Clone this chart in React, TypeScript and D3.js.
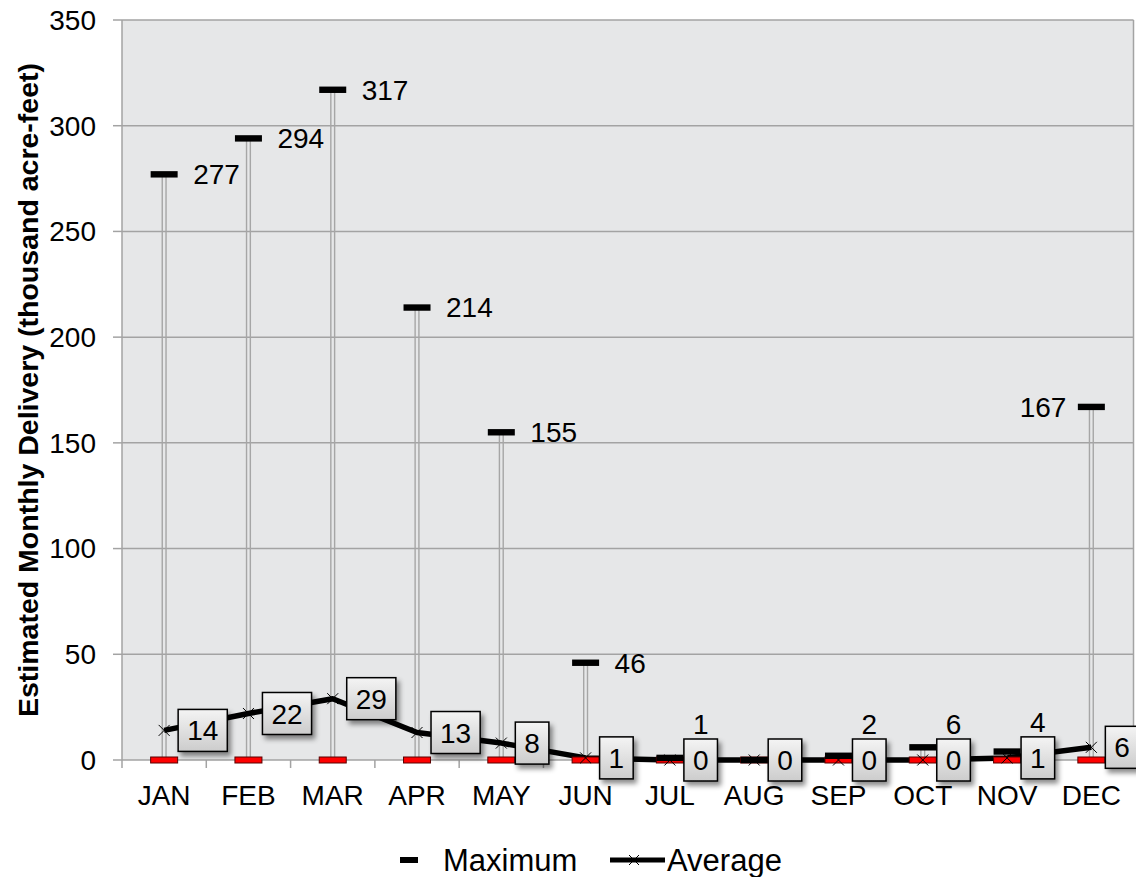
import React from "react";
import * as d3 from "d3";

const months = ["JAN", "FEB", "MAR", "APR", "MAY", "JUN", "JUL", "AUG", "SEP", "OCT", "NOV", "DEC"];
const maxValues = [277, 294, 317, 214, 155, 46, 1, 0, 2, 6, 4, 167];
const minValues = [0, 0, 0, 0, 0, 0, 0, 0, 0, 0, 0, 0];
const avgValues = [14, 22, 29, 13, 8, 1, 0, 0, 0, 0, 1, 6];
// where each maximum label sits: right of marker, left of marker, above the average box, or hidden
const maxLabelPos = ["right", "right", "right", "right", "right", "right", "above", "none", "above", "above", "above", "left"];
const yTicks = [0, 50, 100, 150, 200, 250, 300, 350];
const yTitle = "Estimated Monthly Delivery (thousand acre-feet)";
const legendMax = "Maximum";
const legendAvg = "Average";

const W = 1136;
const H = 877;
const FONT = "'Liberation Sans', Arial, sans-serif";
const FS = 28;

export default function App() {
  const x = d3.scaleBand<string>().domain(months).range([122, 1133.5]).padding(0);
  const y = d3.scaleLinear().domain([0, 350]).range([760, 20]);
  const cx = (m: string) => (x(m) as number) + x.bandwidth() / 2;
  const x0 = x.range()[0];
  const x1 = x.range()[1];
  const line = d3
    .line<number>()
    .x((_, i) => cx(months[i]))
    .y((d) => y(d));
  const digitW = FS * 0.556;
  const boxW = (v: number) => String(v).length * digitW + 18;
  const boxH = 42;
  const boxOff = 14;
  const crossPath = (px: number, py: number, s: number) =>
    `M${px - s},${py - s}L${px + s},${py + s}M${px - s},${py + s}L${px + s},${py - s}`;

  return (
    <svg width={W} height={H} style={{ position: "absolute", left: 0, top: 0, background: "#fff" }} fontFamily={FONT}>
      <defs>
        <linearGradient id="boxGrad" x1="0" y1="0" x2="0" y2="1">
          <stop offset="0" stopColor="#f4f4f4" />
          <stop offset="1" stopColor="#cccccc" />
        </linearGradient>
        <filter id="shadow" x="-30%" y="-30%" width="160%" height="160%">
          <feDropShadow dx="3" dy="4" stdDeviation="2.5" floodColor="#000" floodOpacity="0.45" />
        </filter>
      </defs>
      {/* plot area */}
      <rect x={x0} y={y(350)} width={x1 - x0} height={y(0) - y(350)} fill="#e6e7e8" />
      {yTicks.map((t) => (
        <line key={"g" + t} x1={x0} x2={x1} y1={y(t)} y2={y(t)} stroke="#a3a3a3" strokeWidth={1.5} />
      ))}
      <line x1={x1} x2={x1} y1={y(350)} y2={y(0)} stroke="#a3a3a3" strokeWidth={1.5} />
      <line x1={x0} x2={x0} y1={y(350)} y2={y(0)} stroke="#a3a3a3" strokeWidth={1.5} />
      {/* y ticks and labels */}
      {yTicks.map((t) => (
        <g key={"yt" + t}>
          <line x1={113} x2={x0} y1={y(t)} y2={y(t)} stroke="#a3a3a3" strokeWidth={1.5} />
          <text x={96} y={y(t)} dy="0.35em" textAnchor="end" fontSize={FS} fill="#000">
            {t}
          </text>
        </g>
      ))}
      {/* x ticks */}
      {months.concat(["END"]).map((m, i) => {
        const xx = x0 + i * x.bandwidth();
        return <line key={"xt" + i} x1={xx} x2={xx} y1={y(0)} y2={y(0) + 8} stroke="#a3a3a3" strokeWidth={1.5} />;
      })}
      {months.map((m) => (
        <text key={"xl" + m} x={cx(m)} y={805} textAnchor="middle" fontSize={FS} fill="#000">
          {m}
        </text>
      ))}
      {/* y title */}
      <text
        transform={`translate(28,390) rotate(-90)`}
        textAnchor="middle"
        dy="0.35em"
        fontSize={28.5}
        fontWeight="bold"
        fill="#000"
      >
        {yTitle}
      </text>
      {/* high-low drop lines */}
      {months.map((m, i) => (
        <g key={"dl" + m}>
          <line x1={cx(m) - 1.9} x2={cx(m) - 1.9} y1={y(minValues[i])} y2={y(maxValues[i])} stroke="#a6a6a6" strokeWidth={1.4} />
          <line x1={cx(m) + 1.9} x2={cx(m) + 1.9} y1={y(minValues[i])} y2={y(maxValues[i])} stroke="#a6a6a6" strokeWidth={1.4} />
        </g>
      ))}
      {/* average line */}
      <path d={line(avgValues) || ""} fill="none" stroke="#000" strokeWidth={5.5} strokeLinejoin="round" />
      {/* min markers */}
      {months.map((m, i) => (
        <rect key={"mn" + m} x={cx(m) - 13.5} y={y(minValues[i]) - 3} width={27} height={6} fill="#ff0000" stroke="#5a0000" strokeWidth={1} />
      ))}
      {/* average x markers */}
      {months.map((m, i) => (
        <path key={"ax" + m} d={crossPath(cx(m), y(avgValues[i]), 5.5)} stroke="#000" strokeWidth={1} fill="none" />
      ))}
      {/* max markers */}
      {months.map((m, i) => (
        <rect key={"mx" + m} x={cx(m) - 13.5} y={y(maxValues[i]) - 3.2} width={27} height={6.4} fill="#000" />
      ))}
      {/* max labels */}
      {months.map((m, i) => {
        const pos = maxLabelPos[i];
        if (pos === "right")
          return (
            <text key={"ml" + m} x={cx(m) + 29} y={y(maxValues[i])} dy="0.35em" fontSize={FS} fill="#000">
              {maxValues[i]}
            </text>
          );
        if (pos === "left")
          return (
            <text key={"ml" + m} x={cx(m) - 25} y={y(maxValues[i])} dy="0.35em" textAnchor="end" fontSize={FS} fill="#000">
              {maxValues[i]}
            </text>
          );
        if (pos === "above") {
          const bx = cx(m) + boxOff + boxW(avgValues[i]) / 2;
          const top = y(avgValues[i]) - boxH / 2;
          return (
            <text key={"ml" + m} x={bx} y={top - 5} textAnchor="middle" fontSize={FS} fill="#000">
              {maxValues[i]}
            </text>
          );
        }
        return null;
      })}
      {/* average label boxes */}
      {months.map((m, i) => {
        const bw = boxW(avgValues[i]);
        const bx = cx(m) + boxOff;
        const by = y(avgValues[i]) - boxH / 2;
        return (
          <g key={"ab" + m}>
            <rect x={bx} y={by} width={bw} height={boxH} fill="url(#boxGrad)" stroke="#000" strokeWidth={1.5} filter="url(#shadow)" />
            <text x={bx + bw / 2} y={y(avgValues[i])} dy="0.36em" textAnchor="middle" fontSize={FS} fill="#000">
              {avgValues[i]}
            </text>
          </g>
        );
      })}
      {/* legend */}
      <rect x={400} y={857} width={18} height={6} fill="#000" />
      <text x={443} y={871} fontSize={31} fill="#000">
        {legendMax}
      </text>
      <line x1={610} x2={665} y1={860} y2={860} stroke="#000" strokeWidth={5} />
      <path d={crossPath(634, 860, 5)} stroke="#000" strokeWidth={1} fill="none" />
      <text x={667} y={871} fontSize={31} fill="#000">
        {legendAvg}
      </text>
    </svg>
  );
}
